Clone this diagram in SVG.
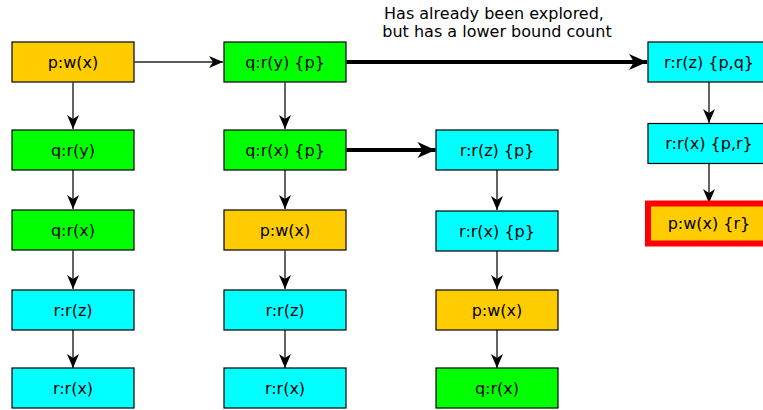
<svg xmlns="http://www.w3.org/2000/svg" width="763" height="410" viewBox="0 0 763 410">
<defs>
<marker id="ah" markerUnits="userSpaceOnUse" markerWidth="16" markerHeight="14" viewBox="-15 -7 16 14" refX="0" refY="0" orient="auto"><path d="M0,0 L-14,-6 L-10,0 L-14,6 Z" fill="#000"/></marker>
<marker id="ahb" markerUnits="userSpaceOnUse" markerWidth="20" markerHeight="18" viewBox="-19 -9 20 18" refX="0" refY="0" orient="auto"><path d="M0,0 L-18,-8 L-13,0 L-18,8 Z" fill="#000"/></marker>
</defs>
<style>
.n{stroke:#000;stroke-width:1.2}
.o{fill:#ffcc00}.g{fill:#00ff00}.c{fill:#00ffff}
.t{font-family:"DejaVu Sans",sans-serif;font-size:16px;fill:#000;text-anchor:middle}
.e{fill:none;stroke:#222;stroke-width:1.4;marker-end:url(#ah)}
.b{fill:none;stroke:#000;stroke-width:4;marker-end:url(#ahb)}
</style>
<rect width="763" height="410" fill="#fff"/>
<g id="connectors">
<path class="e" d="M134.5,62 H223"/>
<path class="e" d="M73,82.5 V129"/>
<path class="e" d="M73,169.5 V209"/>
<path class="e" d="M73,250.5 V289"/>
<path class="e" d="M73,330 V368"/>
<path class="e" d="M285,82.5 V129"/>
<path class="e" d="M285,169.5 V209"/>
<path class="e" d="M285,250.5 V289"/>
<path class="e" d="M285,330 V368"/>
<path class="e" d="M497,169.5 V210"/>
<path class="e" d="M497,250.5 V289"/>
<path class="e" d="M497,330 V368"/>
<path class="e" d="M709,82 V123"/>
<path class="e" d="M709,163.5 V203"/>
<path class="b" d="M346.5,62 H647"/>
<path class="b" d="M346.5,150 H435.5"/>
</g>
<text class="t" y="19"><tspan x="494">Has already been explored,</tspan><tspan x="497" y="37">but has a lower bound count</tspan></text>
<g id="n1"><rect class="n o" x="12" y="42" width="122" height="40"/><text class="t" x="73" y="67.5">p:w(x)</text></g>
<g id="n2"><rect class="n g" x="12" y="130" width="122" height="40"/><text class="t" x="73" y="155.5">q:r(y)</text></g>
<g id="n3"><rect class="n g" x="12" y="210" width="122" height="40"/><text class="t" x="73" y="235.5">q:r(x)</text></g>
<g id="n4"><rect class="n c" x="12" y="290" width="122" height="40"/><text class="t" x="73" y="315.5">r:r(z)</text></g>
<g id="n5"><rect class="n c" x="12" y="368" width="122" height="40"/><text class="t" x="73" y="393.5">r:r(x)</text></g>
<g id="m1"><rect class="n g" x="224" y="42" width="122" height="40"/><text class="t" x="285" y="67.5">q:r(y) {p}</text></g>
<g id="m2"><rect class="n g" x="224" y="130" width="122" height="40"/><text class="t" x="285" y="155.5">q:r(x) {p}</text></g>
<g id="m3"><rect class="n o" x="224" y="210" width="122" height="40"/><text class="t" x="285" y="235.5">p:w(x)</text></g>
<g id="m4"><rect class="n c" x="224" y="290" width="122" height="40"/><text class="t" x="285" y="315.5">r:r(z)</text></g>
<g id="m5"><rect class="n c" x="224" y="368" width="122" height="40"/><text class="t" x="285" y="393.5">r:r(x)</text></g>
<g id="k1"><rect class="n c" x="436" y="130" width="122" height="40"/><text class="t" x="497" y="155.5">r:r(z) {p}</text></g>
<g id="k2"><rect class="n c" x="436" y="211" width="122" height="40"/><text class="t" x="497" y="236.5">r:r(x) {p}</text></g>
<g id="k3"><rect class="n o" x="436" y="290" width="122" height="40"/><text class="t" x="497" y="315.5">p:w(x)</text></g>
<g id="k4"><rect class="n g" x="436" y="368" width="122" height="40"/><text class="t" x="497" y="393.5">q:r(x)</text></g>
<g id="j1"><rect class="n c" x="648" y="42" width="122" height="40"/><text class="t" x="709" y="67.5">r:r(z) {p,q}</text></g>
<g id="j2"><rect class="n c" x="648" y="123.5" width="122" height="40"/><text class="t" x="709" y="149">r:r(x) {p,r}</text></g>
<g id="j3"><rect x="648" y="203.5" width="122" height="40" fill="#ffcc00" stroke="#ff0000" stroke-width="6"/><text class="t" x="709" y="229">p:w(x) {r}</text></g>
</svg>
